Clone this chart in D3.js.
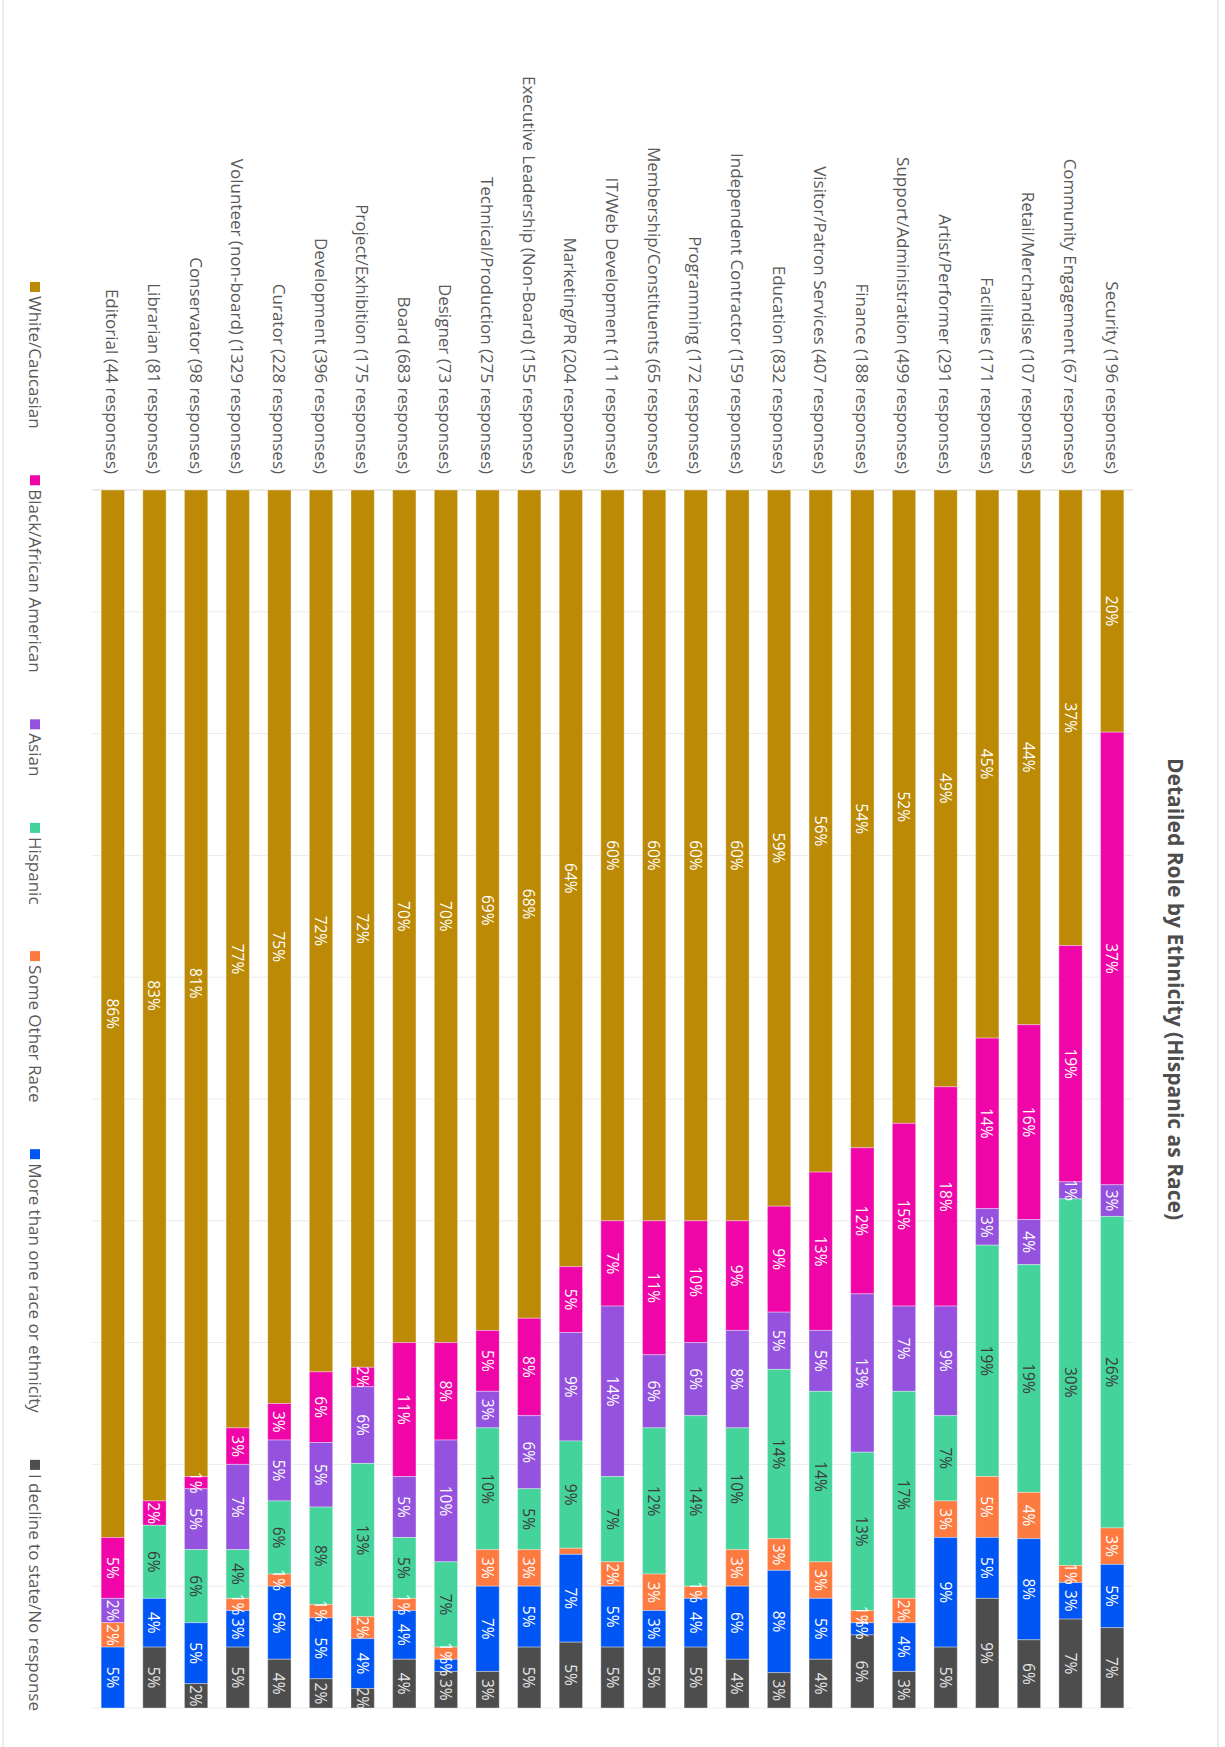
<!DOCTYPE html>
<html><head><meta charset="utf-8">
<script src="https://cdn.jsdelivr.net/npm/d3@7"></script>
<style>body{margin:0;background:#fff;} svg{display:block;}</style>
</head><body>
<svg id="chart" width="1225" height="1747"></svg>
<script>
const categories = ["Security (196 responses)", "Community Engagement (67 responses)", "Retail/Merchandise (107 responses)", "Facilities (171 responses)", "Artist/Performer (291 responses)", "Support/Administration (499 responses)", "Finance (188 responses)", "Visitor/Patron Services (407 responses)", "Education (832 responses)", "Independent Contractor (159 responses)", "Programming (172 responses)", "Membership/Constituents (65 responses)", "IT/Web Development (111 responses)", "Marketing/PR (204 responses)", "Executive Leadership (Non-Board) (155 responses)", "Technical/Production (275 responses)", "Designer (73 responses)", "Board (683 responses)", "Project/Exhibition (175 responses)", "Development (396 responses)", "Curator (228 responses)", "Volunteer (non-board) (1329 responses)", "Conservator (98 responses)", "Librarian (81 responses)", "Editorial (44 responses)"];

const seriesNames = ["White/Caucasian", "Black/African American", "Asian", "Hispanic", "Some Other Race", "More than one race or ethnicity", "I decline to state/No response"];
const seriesColors = ["#BC8A04", "#F006A8", "#9452DE", "#45D39C", "#FD7A41", "#0055F5", "#4D4D4D"];
const labelColors = ["#ffffff", "#ffffff", "#ffffff", "#3a3a3a", "#ffffff", "#ffffff", "#e6e6e6"];

const white    = [19.9, 37.4, 43.9, 45, 49, 52, 54, 56, 58.8, 60, 60, 60, 60, 63.7, 68, 69, 70, 70, 72.1, 72.4, 75, 77, 81, 83, 86];
const black    = [37.2, 19.4, 16.0, 14, 18, 15, 12, 13, 8.7, 9, 10, 11, 7, 5.4, 8, 5, 8, 11, 1.6, 5.8, 3, 3, 1, 2, 5];
const asian    = [2.6, 1.4, 3.7, 3, 9, 7, 13, 5, 4.7, 8, 6, 6, 14, 8.9, 6, 3, 10, 5, 6.3, 5.3, 5, 7, 5, 0, 2];
const hispanic = [25.6, 30.1, 18.7, 19, 7, 17, 13, 14, 13.9, 10, 14, 12, 7, 8.8, 5, 10, 7, 5, 12.6, 8.0, 6, 4, 6, 6, 0];
const other    = [3.0, 1.4, 3.8, 5, 3, 2, 1, 3, 2.6, 3, 1, 3, 2, 0.5, 3, 3, 1, 1, 1.8, 1.1, 1, 1, 0, 0, 2];
const multi    = [5.2, 3.0, 8.3, 5, 9, 4, 1, 5, 8.4, 6, 4, 3, 5, 7.2, 5, 7, 1, 4, 4.1, 5.0, 6, 3, 5, 4, 5];
const decline  = [6.6, 7.3, 5.6, 9, 5, 3, 6, 4, 2.9, 4, 5, 5, 5, 5.4, 5, 3, 3, 4, 1.6, 2.4, 4, 5, 2, 5, 0];

const title = "Detailed Role by Ethnicity (Hispanic as Race)";

const seriesValues = [white, black, asian, hispanic, other, multi, decline];
const rows = categories.map((c, i) => {
  const r = {category: c};
  seriesNames.forEach((s, k) => r[s] = seriesValues[k][i]);
  return r;
});

const FONT = "'Open Sans', 'Noto Sans', sans-serif";
const svg = d3.select("#chart");
// Draw the chart in its natural (horizontal) orientation, then rotate 90deg clockwise
const g = svg.append("g").attr("transform", "translate(1225,0) rotate(90)");

const W = 1747, H = 1225;
const x = d3.scaleLinear().domain([0, 1]).range([490, 1708]);
const y = d3.scaleBand().domain(categories).range([92, 1133]).paddingInner(0.44).paddingOuter(0.22);

// frame lines
g.append("line").attr("x1", 0).attr("x2", W).attr("y1", 7).attr("y2", 7).attr("stroke", "#d6d6d6");
g.append("line").attr("x1", 0).attr("x2", W).attr("y1", 1222).attr("y2", 1222).attr("stroke", "#d6d6d6");

// gridlines
g.append("g").selectAll("line").data(x.ticks(10)).join("line")
  .attr("x1", d => x(d)).attr("x2", d => x(d))
  .attr("y1", 92).attr("y2", 1133)
  .attr("stroke", d => (d === 0) ? "#d9d9d9" : "#ececec")
  .attr("stroke-width", 1);

const stack = d3.stack().keys(seriesNames).offset(d3.stackOffsetExpand);
const stacked = stack(rows);

const fmt = d3.format(".0f");
const layers = g.append("g").selectAll("g").data(stacked).join("g")
  .attr("fill", (d, i) => seriesColors[i]);

layers.selectAll("rect").data(d => d.map(p => ({p, key: d.key}))).join("rect")
  .attr("x", d => x(d.p[0]))
  .attr("width", d => Math.max(0, x(d.p[1]) - x(d.p[0])))
  .attr("y", d => y(d.p.data.category))
  .attr("height", y.bandwidth())
  .attr("stroke", "#ffffff").attr("stroke-opacity", 0.35).attr("stroke-width", 1);

// value labels
const lab = g.append("g");
stacked.forEach((layer, k) => {
  lab.selectAll(null).data(layer.filter(p => p.data[layer.key] >= 0.95)).join("text")
    .attr("x", p => (x(p[0]) + x(p[1])) / 2)
    .attr("y", p => y(p.data.category) + y.bandwidth() / 2)
    .attr("text-anchor", "middle")
    .attr("dominant-baseline", "central")
    .attr("font-family", FONT).attr("font-size", 15.5)
    .attr("fill", labelColors[k])
    .text(p => fmt(p.data[layer.key]) + "%");
});

// category labels
g.append("g").selectAll("text").data(categories).join("text")
  .attr("x", 474)
  .attr("y", d => y(d) + y.bandwidth() / 2)
  .attr("text-anchor", "end")
  .attr("dominant-baseline", "central")
  .attr("font-family", FONT).attr("font-size", 17)
  .attr("fill", "#595959")
  .text(d => d);

// title
g.append("text").attr("x", 989).attr("y", 49)
  .attr("text-anchor", "middle").attr("dominant-baseline", "central")
  .attr("font-family", FONT).attr("font-size", 21).attr("font-weight", "bold")
  .attr("fill", "#4d4d4d").text(title);

// legend
const lg = g.append("g");
const items = lg.selectAll("g").data(seriesNames).join("g");
items.append("rect").attr("width", 10).attr("height", 10).attr("y", -5)
  .attr("fill", (d, i) => seriesColors[i]);
items.append("text").attr("x", 14).attr("y", 0).attr("dominant-baseline", "central")
  .attr("font-family", FONT).attr("font-size", 17).attr("fill", "#595959").text(d => d);
const widths = [];
items.each(function() { widths.push(this.getBBox().width); });
const start = 282, end = 1711;
const gap = (end - start - d3.sum(widths)) / (widths.length - 1);
let pos = start;
items.attr("transform", (d, i) => { const t = `translate(${pos},1190)`; pos += widths[i] + gap; return t; });
</script>
</body></html>
